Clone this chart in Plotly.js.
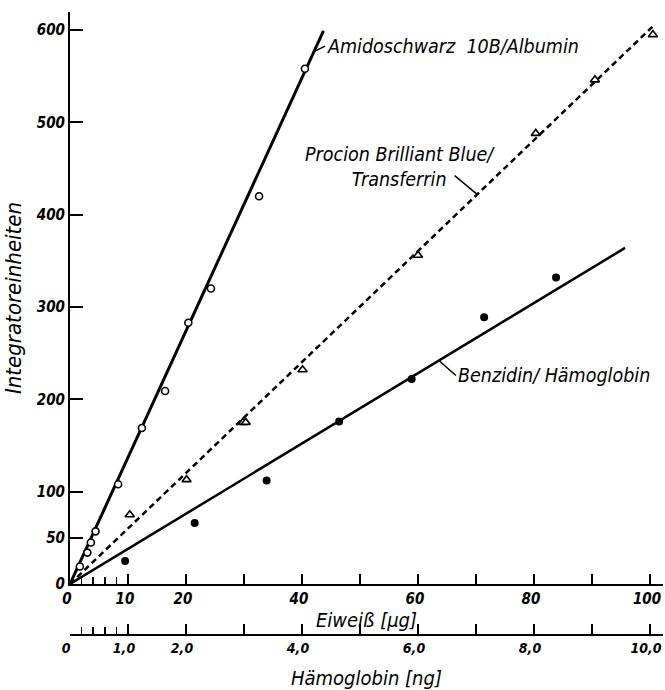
<!DOCTYPE html>
<html>
<head>
<meta charset="utf-8">
<script src="https://cdn.plot.ly/plotly-3.0.1.min.js"></script>
<style>html,body{margin:0;padding:0;background:#fff;}#chart{width:665px;height:690px;}</style>
</head>
<body>
<div id="chart"></div>
<script>
// Amidoschwarz 10B / Albumin (x: Eiweiß µg)
var amidoX = [1.7, 3.0, 3.6, 4.4, 8.3, 12.4, 16.4, 20.4, 24.3, 32.6, 40.5];
var amidoY = [19, 34, 45, 57, 108, 169, 209, 283, 320, 420, 558];
var amidoFitX = [0, 43.7];
var amidoFitY = [0, 599];

// Procion Brilliant Blue / Transferrin (x: Eiweiß µg)
var procionX = [10.3, 20.1, 29.8, 30.3, 40.1, 60.0, 80.3, 90.5, 100.5];
var procionY = [75, 113, 175, 175, 232, 356, 488, 546, 595];
var procionFitX = [0, 100.5];
var procionFitY = [0, 604];

// Benzidin / Hämoglobin (x: Hämoglobin ng)
var benzX = [0.95, 2.15, 3.39, 4.64, 5.89, 7.14, 8.38];
var benzY = [25, 66, 112, 176, 222, 289, 332];
var benzFitX = [0, 9.57];
var benzFitY = [0, 364];

// Tick labels
var yTickVals = [0, 50, 100, 200, 300, 400, 500, 600];
var yTickText = ['0', '50', '100', '200', '300', '400', '500', '600'];
var xTickVals = [0, 10, 20, 30, 40, 50, 60, 70, 80, 90, 100];
var xTickText = ['0', '10', '20', '', '40', '', '60', '', '80', '', '100'];
var xMinorVals = [2, 4, 6, 8];
var x2TickVals = [0, 1, 2, 3, 4, 5, 6, 7, 8, 9, 10];
var x2TickText = ['0', '1,0', '2,0', '', '4,0', '', '6,0', '', '8,0', '', '10,0'];
var x2MinorVals = [0.2, 0.4, 0.6, 0.8];

var FAM = 'DejaVu Sans Condensed, sans-serif';
var tickFont = {family: FAM, size: 15, color: '#000', style: 'italic', weight: 'bold'};
var tick2Font = {family: FAM, size: 14, color: '#000', style: 'italic', weight: 'bold'};
var titleFont = {family: FAM, size: 20, color: '#000', style: 'italic'};
var yTitleFont = {family: FAM, size: 22, color: '#000', style: 'italic'};
var labelFont = {family: FAM, size: 19.5, color: '#000', style: 'italic'};

var traces = [
  {x: amidoFitX, y: amidoFitY, mode: 'lines', line: {color: '#000', width: 3}, xaxis: 'x', yaxis: 'y', hoverinfo: 'skip'},
  {x: procionFitX, y: procionFitY, mode: 'lines', line: {color: '#000', width: 2.5, dash: '6px,4px'}, xaxis: 'x', yaxis: 'y', hoverinfo: 'skip'},
  {x: benzFitX, y: benzFitY, mode: 'lines', line: {color: '#000', width: 2.5}, xaxis: 'x2', yaxis: 'y', hoverinfo: 'skip'},
  {x: amidoX, y: amidoY, mode: 'markers', marker: {symbol: 'circle', size: 7, color: '#fff', line: {color: '#000', width: 1.6}}, xaxis: 'x', yaxis: 'y'},
  {x: procionX, y: procionY, mode: 'markers', marker: {symbol: 'triangle-up', size: 8, color: '#fff', line: {color: '#000', width: 1.6}}, xaxis: 'x', yaxis: 'y'},
  {x: benzX, y: benzY, mode: 'markers', marker: {symbol: 'circle', size: 8, color: '#000'}, xaxis: 'x2', yaxis: 'y'}
];

var axisCommon = {
  showline: true, linecolor: '#000', linewidth: 2, mirror: false,
  ticks: 'inside', tickcolor: '#000', tickwidth: 2,
  showgrid: false, zeroline: false, tickfont: tickFont, tickmode: 'array', fixedrange: true,
  ticklabeloverflow: 'allow'
};

var layout = {
  width: 665, height: 690,
  margin: {l: 70, r: 2, t: 12, b: 55},
  paper_bgcolor: '#fff', plot_bgcolor: 'rgba(0,0,0,0)',
  showlegend: false,
  xaxis: Object.assign({}, axisCommon, {
    range: [0, 102.24], anchor: 'y', ticklen: 10, ticklabelshift: -3,
    tickvals: xTickVals, ticktext: xTickText,
    minor: {tickmode: 'array', tickvals: xMinorVals, ticks: 'inside', ticklen: 7, tickwidth: 1.5, tickcolor: '#000'},
    title: {text: 'Eiweiß [µg]', font: titleFont, standoff: 0}
  }),
  xaxis2: Object.assign({}, axisCommon, {
    range: [0, 10.224], overlaying: 'x', anchor: 'free', position: 0, side: 'bottom', ticklen: 10, ticklabelshift: -4,
    tickvals: x2TickVals, ticktext: x2TickText, tickfont: tick2Font,
    minor: {tickmode: 'array', tickvals: x2MinorVals, ticks: 'inside', ticklen: 7, tickwidth: 1.5, tickcolor: '#000'},
    title: {text: 'Hämoglobin [ng]', font: titleFont, standoff: 16}
  }),
  yaxis: Object.assign({}, axisCommon, {
    range: [0, 619.5], domain: [0.0819, 1], anchor: 'x', ticklen: 13,
    tickvals: yTickVals, ticktext: yTickText,
    title: {text: 'Integratoreinheiten', font: yTitleFont, standoff: 9}
  }),
  annotations: [
    {x: 41.9, y: 576, xref: 'x', yref: 'y', text: 'Amidoschwarz  10B/Albumin', showarrow: true, arrowhead: 0, arrowwidth: 1.5, arrowcolor: '#000',
     ax: 12, ay: -6, xanchor: 'left', yanchor: 'middle', font: labelFont, standoff: 0},
    {x: 70.2, y: 422, xref: 'x', yref: 'y', text: '', showarrow: true, arrowhead: 0, arrowwidth: 1.5, arrowcolor: '#000', ax: -24, ay: -20},
    {x: 56.9, y: 452, xref: 'x', yref: 'y', text: 'Procion Brilliant Blue/<br>Transferrin', showarrow: false, align: 'center', font: labelFont},
    {x: 6.36, y: 242, xref: 'x2', yref: 'y', text: 'Benzidin/ Hämoglobin', showarrow: true, arrowhead: 0, arrowwidth: 1.5, arrowcolor: '#000',
     ax: 17, ay: 15, xanchor: 'left', yanchor: 'middle', font: labelFont, standoff: 0}
  ]
};

Plotly.newPlot('chart', traces, layout, {displayModeBar: false, staticPlot: true});
</script>
</body>
</html>
